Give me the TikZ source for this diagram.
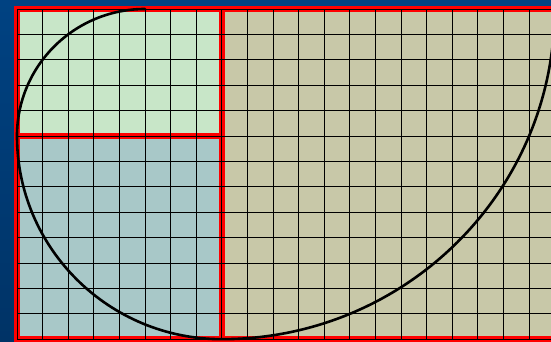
\documentclass[tikz,border=0pt]{standalone}
\usepackage{tikz}
\definecolor{BgTop}{HTML}{004282}
\definecolor{BgBot}{HTML}{003366}
\definecolor{Mint}{HTML}{C8E6C8}
\definecolor{Slate}{HTML}{A8C8C8}
\definecolor{Khaki}{HTML}{C8C8A8}
\definecolor{Frame}{HTML}{FF0000}
\tikzset{
 frame/.style={draw=Frame,line width=6.5pt},
 gridline/.style={draw=black,line width=0.8pt,step=1},
 spiral/.style={draw=black,line width=2.6pt,line cap=round}
}
\begin{document}
\begin{tikzpicture}[x=25.6pt,y=25.4pt]
\useasboundingbox (-0.664,0.354) rectangle (20.86,-13.11);
\clip (-0.664,0.354) rectangle (20.86,-13.11);
\shade[top color=BgTop,bottom color=BgBot] (-0.664,0.354) rectangle (20.86,-13.11);
% the three rectangles 8x5, 8x8, 13x13
\fill[Mint] (0,0) rectangle (8,-5);
\fill[Slate] (0,-5) rectangle (8,-13);
\fill[Khaki] (8,0) rectangle (21,-13);
\draw[frame] (0,0) rectangle (8,-5);
\draw[frame] (0,-5) rectangle (8,-13);
\draw[frame] (8,0) rectangle (21,-13);
\draw[gridline] (0,-13) grid (21,0);
% spiral
\draw[spiral] (5,0) arc[start angle=90,end angle=180,radius=5]
  arc[start angle=180,end angle=270,radius=8]
  arc[start angle=270,end angle=360,radius=13];
\end{tikzpicture}
\end{document}
